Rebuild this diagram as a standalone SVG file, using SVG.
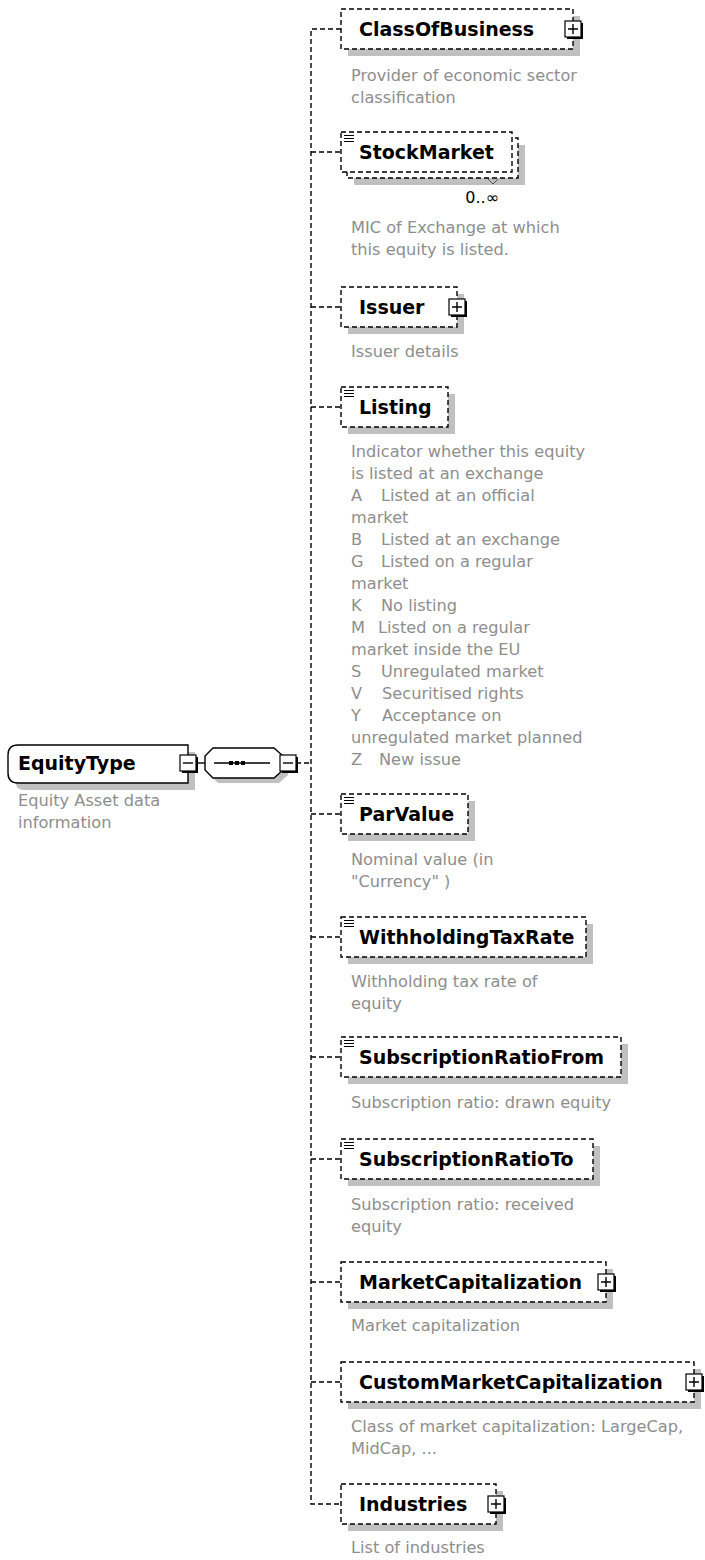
<svg xmlns="http://www.w3.org/2000/svg" xmlns:xlink="http://www.w3.org/1999/xlink" width="705" height="1560" viewBox="0 0 705 1560">
<style>
.box{fill:#fff;stroke:#000;stroke-width:1.4;stroke-dasharray:5 3}
.shadow{fill:#c0c0c0}
.title{font-family:"DejaVu Sans",sans-serif;font-weight:bold;font-size:19px;fill:#000}
.desc{font-family:"DejaVu Sans",sans-serif;font-size:16.2px;fill:#8e8e8e}
.card{font-family:"DejaVu Sans",sans-serif;font-size:16px;fill:#000}
.conn{fill:none;stroke:#000;stroke-width:1.4;stroke-dasharray:5 3}
.solid{fill:none;stroke:#000;stroke-width:1.4}
</style>
<defs>
<g id="plus"><rect x="-6" y="-6" width="16" height="16" fill="#000"/><rect x="-8" y="-8" width="16" height="16" fill="#fff" stroke="#000" stroke-width="1.2"/><path d="M-5,0H5M0,-5V5" stroke="#000" stroke-width="1.4"/></g>
<g id="minus"><rect x="-6" y="-6" width="16" height="16" fill="#000"/><rect x="-8" y="-8" width="16" height="16" fill="#fff" stroke="#000" stroke-width="1.2"/><path d="M-5,0H5" stroke="#000" stroke-width="1.4"/></g>
<g id="simple"><path d="M0,0.5H10M0,3.5H10M0,6.5H10" stroke="#000" stroke-width="1.2"/></g>
</defs>
<rect width="705" height="1560" fill="#fff"/>

<g id="connectors">
<path class="conn" d="M341,29H311V1504H341"/>
<path class="conn" d="M311,152H341M311,307H341M311,407H341M311,814H341M311,937H341M311,1057H341M311,1159H341M311,1282H341M311,1382H341"/>
<path class="conn" d="M296,763H311"/>
<path class="solid" d="M196,763H205"/>
</g>

<g id="EquityType">
<path class="shadow" d="M25,752H195V790H25Q15,790 15,780V762Q15,752 25,752Z"/>
<path fill="#fff" stroke="#000" stroke-width="1.4" d="M18,745H188V783H18Q8,783 8,773V755Q8,745 18,745Z"/>
<text class="title" x="18" y="770">EquityType</text>
<use xlink:href="#minus" x="188" y="763"/>
<text class="desc" x="18" y="806">Equity Asset data</text>
<text class="desc" x="18" y="828">information</text>
</g>

<g id="sequence">
<polygon class="shadow" points="218,753 279,753 288,761 288,775 279,783 218,783 210,775 210,761"/>
<polygon fill="#fff" stroke="#000" stroke-width="1.4" points="213,748 274,748 283,756 283,770 274,778 213,778 205,770 205,756"/>
<path class="solid" d="M214,763H270"/>
<rect x="229" y="761" width="4" height="4" fill="#000"/>
<rect x="235" y="761" width="4" height="4" fill="#000"/>
<rect x="241" y="761" width="4" height="4" fill="#000"/>
<use xlink:href="#minus" x="288" y="763"/>
</g>

<g id="ClassOfBusiness">
<rect class="shadow" x="348" y="16" width="232" height="40"/>
<rect class="box" x="341" y="9" width="232" height="40"/>
<text class="title" x="359" y="36">ClassOfBusiness</text>
<use xlink:href="#plus" x="573" y="29"/>
<text class="desc" x="351" y="81">Provider of economic sector</text>
<text class="desc" x="351" y="103">classification</text>
</g>

<g id="StockMarket">
<rect class="shadow" x="354" y="145" width="171" height="40"/>
<rect class="box" x="347" y="138" width="171" height="40"/>
<rect class="box" x="341" y="132" width="171" height="40"/>
<use xlink:href="#simple" x="344" y="135"/>
<path d="M488,179L493,184L498,179" fill="none" stroke="#555" stroke-width="1"/>
<text class="title" x="359" y="159">StockMarket</text>
<text class="card" x="499" y="203" text-anchor="end">0..∞</text>
<text class="desc" x="351" y="233">MIC of Exchange at which</text>
<text class="desc" x="351" y="255">this equity is listed.</text>
</g>

<g id="Issuer">
<rect class="shadow" x="348" y="294" width="116" height="40"/>
<rect class="box" x="341" y="287" width="116" height="40"/>
<text class="title" x="359" y="314">Issuer</text>
<use xlink:href="#plus" x="457" y="307"/>
<text class="desc" x="351" y="357">Issuer details</text>
</g>

<g id="Listing">
<rect class="shadow" x="348" y="394" width="107" height="40"/>
<rect class="box" x="341" y="387" width="107" height="40"/>
<use xlink:href="#simple" x="344" y="390"/>
<text class="title" x="359" y="414">Listing</text>
<text class="desc" x="351" y="457">Indicator whether this equity</text>
<text class="desc" x="351" y="479">is listed at an exchange</text>
<text class="desc" y="501"><tspan x="351">A</tspan><tspan x="381">Listed at an official</tspan></text>
<text class="desc" x="351" y="523">market</text>
<text class="desc" y="545"><tspan x="351">B</tspan><tspan x="381">Listed at an exchange</tspan></text>
<text class="desc" y="567"><tspan x="351">G</tspan><tspan x="381">Listed on a regular</tspan></text>
<text class="desc" x="351" y="589">market</text>
<text class="desc" y="611"><tspan x="351">K</tspan><tspan x="381">No listing</tspan></text>
<text class="desc" y="633"><tspan x="351">M</tspan><tspan x="378">Listed on a regular</tspan></text>
<text class="desc" x="351" y="655">market inside the EU</text>
<text class="desc" y="677"><tspan x="351">S</tspan><tspan x="381">Unregulated market</tspan></text>
<text class="desc" y="699"><tspan x="351">V</tspan><tspan x="382">Securitised rights</tspan></text>
<text class="desc" y="721"><tspan x="351">Y</tspan><tspan x="382">Acceptance on</tspan></text>
<text class="desc" x="351" y="743">unregulated market planned</text>
<text class="desc" y="765"><tspan x="351">Z</tspan><tspan x="379">New issue</tspan></text>
</g>

<g id="ParValue">
<rect class="shadow" x="348" y="801" width="127" height="40"/>
<rect class="box" x="341" y="794" width="127" height="40"/>
<use xlink:href="#simple" x="344" y="797"/>
<text class="title" x="359" y="821">ParValue</text>
<text class="desc" x="351" y="865">Nominal value (in</text>
<text class="desc" x="351" y="887">"Currency" )</text>
</g>

<g id="WithholdingTaxRate">
<rect class="shadow" x="348" y="924" width="245" height="40"/>
<rect class="box" x="341" y="917" width="245" height="40"/>
<use xlink:href="#simple" x="344" y="920"/>
<text class="title" x="359" y="944">WithholdingTaxRate</text>
<text class="desc" x="351" y="987">Withholding tax rate of</text>
<text class="desc" x="351" y="1009">equity</text>
</g>

<g id="SubscriptionRatioFrom">
<rect class="shadow" x="348" y="1044" width="280" height="40"/>
<rect class="box" x="341" y="1037" width="280" height="40"/>
<use xlink:href="#simple" x="344" y="1040"/>
<text class="title" x="359" y="1064">SubscriptionRatioFrom</text>
<text class="desc" x="351" y="1108">Subscription ratio: drawn equity</text>
</g>

<g id="SubscriptionRatioTo">
<rect class="shadow" x="348" y="1146" width="252" height="40"/>
<rect class="box" x="341" y="1139" width="252" height="40"/>
<use xlink:href="#simple" x="344" y="1142"/>
<text class="title" x="359" y="1166">SubscriptionRatioTo</text>
<text class="desc" x="351" y="1210">Subscription ratio: received</text>
<text class="desc" x="351" y="1232">equity</text>
</g>

<g id="MarketCapitalization">
<rect class="shadow" x="348" y="1269" width="265" height="40"/>
<rect class="box" x="341" y="1262" width="265" height="40"/>
<text class="title" x="359" y="1289">MarketCapitalization</text>
<use xlink:href="#plus" x="606" y="1282"/>
<text class="desc" x="351" y="1331">Market capitalization</text>
</g>

<g id="CustomMarketCapitalization">
<rect class="shadow" x="348" y="1369" width="353" height="40"/>
<rect class="box" x="341" y="1362" width="353" height="40"/>
<text class="title" x="359" y="1389">CustomMarketCapitalization</text>
<use xlink:href="#plus" x="694" y="1382"/>
<text class="desc" x="351" y="1432">Class of market capitalization: LargeCap,</text>
<text class="desc" x="351" y="1454">MidCap, ...</text>
</g>

<g id="Industries">
<rect class="shadow" x="348" y="1491" width="155" height="40"/>
<rect class="box" x="341" y="1484" width="155" height="40"/>
<text class="title" x="359" y="1511">Industries</text>
<use xlink:href="#plus" x="496" y="1504"/>
<text class="desc" x="351" y="1553">List of industries</text>
</g>
</svg>
